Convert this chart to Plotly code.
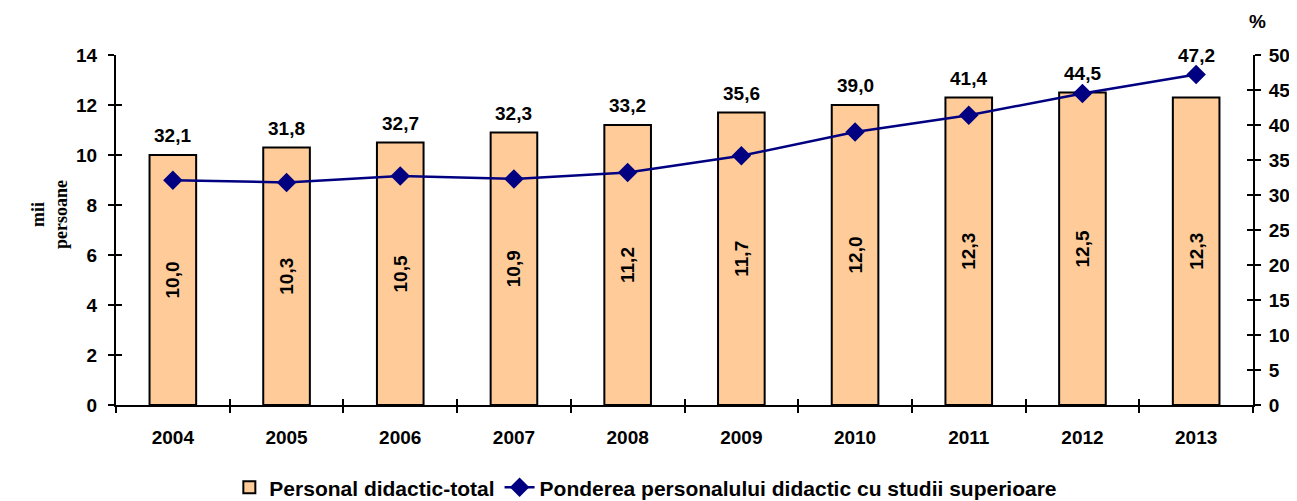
import plotly.graph_objects as go

years = ['2004', '2005', '2006', '2007', '2008', '2009', '2010', '2011', '2012', '2013']
personal_total = [10.0, 10.3, 10.5, 10.9, 11.2, 11.7, 12.0, 12.3, 12.5, 12.3]
pondere_superior = [32.1, 31.8, 32.7, 32.3, 33.2, 35.6, 39.0, 41.4, 44.5, 47.2]

bar_fill = '#FFCC99'
line_col = '#000080'
font_main = 'Liberation Sans, Arial, sans-serif'
fs = 19


def fmt(v):
    return f'{v:.1f}'.replace('.', ',')


fig = go.Figure()

fig.add_trace(go.Bar(
    x=years, y=personal_total, name='<b>Personal didactic-total</b>',
    marker=dict(color=bar_fill, line=dict(color='black', width=2)),
    width=0.41,
    text=[f'<b>{fmt(v)}</b>' for v in personal_total], textposition='inside',
    insidetextanchor='middle', textangle=-90,
    textfont=dict(family=font_main, size=fs, color='black'),
    cliponaxis=False,
))

fig.add_trace(go.Scatter(
    x=years, y=pondere_superior, yaxis='y2', mode='lines+markers',
    name='<b>Ponderea personalului didactic cu studii superioare</b>',
    line=dict(color=line_col, width=2.5),
    marker=dict(symbol='diamond', size=15, color=line_col),
))

# value labels of the percentage series, placed above the higher of bar / marker
for i, (b, p) in enumerate(zip(personal_total, pondere_superior)):
    top = max(b, p * 14 / 50)
    fig.add_annotation(x=i, y=top, xref='x', yref='y', text=f'<b>{fmt(p)}</b>',
                       showarrow=False, yanchor='bottom', yshift=7,
                       font=dict(family=font_main, size=fs, color='black'))

fig.add_annotation(x=1.004, y=1.097, xref='paper', yref='paper', text='<b>%</b>',
                   showarrow=False, xanchor='center', yanchor='middle',
                   font=dict(family=font_main, size=fs, color='black'))

fig.add_annotation(x=-0.058, y=0.543, xref='paper', yref='paper',
                   text='<b>mii<br>persoane</b>', showarrow=False, textangle=-90,
                   xanchor='center', yanchor='middle',
                   font=dict(family='Liberation Serif, Times New Roman, serif', size=18, color='black'))

axis_font = dict(family=font_main, size=fs, color='black')
xr = [-0.5, len(years) - 0.5]

# the page body adds an 8px offset, so the figure is a little smaller than the window
fig.update_layout(
    width=1289, height=493,
    margin=dict(l=108, r=44, t=47, b=96, autoexpand=False),
    paper_bgcolor='white', plot_bgcolor='white',
    font=dict(family=font_main, color='black'),
    showlegend=True,
    legend=dict(orientation='h', x=0.466, xanchor='center', yref='container', y=0.027,
                yanchor='middle', font=dict(family=font_main, size=21, color='black'),
                traceorder='normal'),
    xaxis=dict(type='category', categoryorder='array', categoryarray=years, range=xr,
               automargin=False, showline=True, linecolor='black', linewidth=2,
               ticks='outside', tickson='boundaries', ticklen=6, tickwidth=2, tickcolor='black',
               ticklabelstandoff=14,
               tickfont=axis_font, tickprefix='<b>', ticksuffix='</b>', tickangle=0),
    xaxis2=dict(type='category', categoryorder='array', categoryarray=years, range=xr,
                overlaying='x', showticklabels=False, automargin=False,
                ticks='inside', tickson='boundaries', ticklen=6, tickwidth=2, tickcolor='black',
                showline=False, showgrid=False, side='bottom'),
    yaxis=dict(range=[0, 14], dtick=2, showgrid=False, showline=True, linecolor='black', linewidth=2,
               ticks='outside', ticklen=6, tickwidth=2, tickcolor='black', zeroline=False,
               ticklabelstandoff=7,
               automargin=False, tickfont=axis_font, tickprefix='<b>', ticksuffix='</b>'),
    yaxis2=dict(range=[0, 50], dtick=5, overlaying='y', side='right', showgrid=False,
                showline=True, linecolor='black', linewidth=2, zeroline=False, automargin=False,
                ticks='outside', ticklen=6, tickwidth=2, tickcolor='black', ticklabelstandoff=4,
                tickfont=axis_font, tickprefix='<b>', ticksuffix='</b>'),
    yaxis3=dict(range=[0, 14], dtick=2, overlaying='y', showticklabels=False, showgrid=False,
                automargin=False, ticks='inside', ticklen=6, tickwidth=2, tickcolor='black',
                zeroline=False),
    yaxis4=dict(range=[0, 50], dtick=5, overlaying='y', side='right', showticklabels=False,
                automargin=False, showgrid=False, ticks='inside', ticklen=6, tickwidth=2,
                tickcolor='black', zeroline=False),
)

# invisible helpers to draw the inner halves of the crossing tick marks
fig.add_trace(go.Scatter(x=years, y=personal_total, xaxis='x2', yaxis='y3', mode='markers',
                         marker=dict(opacity=0), showlegend=False, hoverinfo='skip'))
fig.add_trace(go.Scatter(x=years, y=pondere_superior, xaxis='x2', yaxis='y4', mode='markers',
                         marker=dict(opacity=0), showlegend=False, hoverinfo='skip'))

fig.write_html('out.html')
